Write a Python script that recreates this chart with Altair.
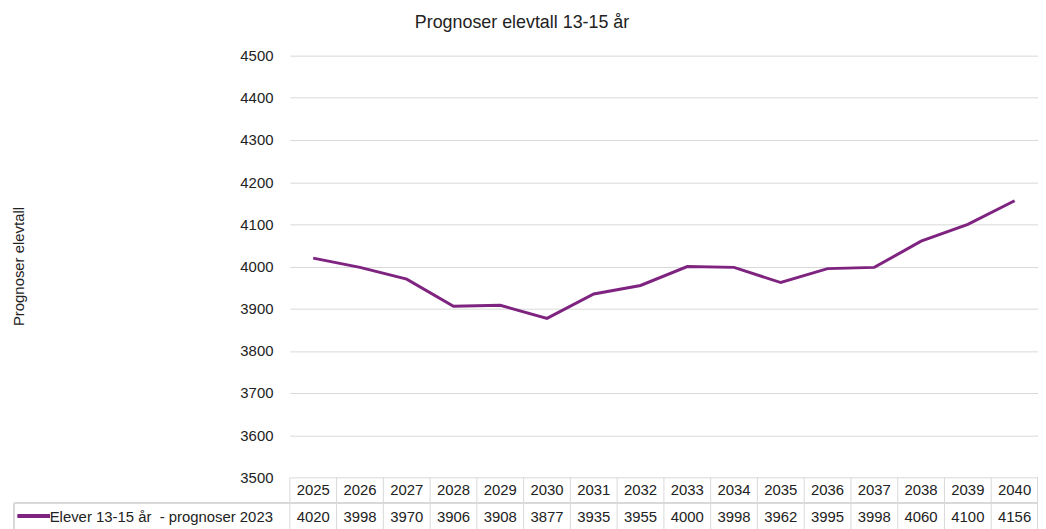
import altair as alt
import pandas as pd

years = [str(y) for y in range(2025, 2041)]
values = [4020, 3998, 3970, 3906, 3908, 3877, 3935, 3955, 4000, 3998, 3962, 3995, 3998, 4060, 4100, 4156]
series_name = "Elever 13-15 år\u00a0 - prognoser 2023"
title_text = "Prognoser elevtall 13-15 år"
y_title = "Prognoser elevtall"
y_ticks = [3500, 3600, 3700, 3800, 3900, 4000, 4100, 4200, 4300, 4400, 4500]

df = pd.DataFrame({"year": years, "value": values})

W, H = 754, 425
PURPLE = "#7E2380"
GRID = "#d9d9d9"
TXT = "#222222"
FONT = "Liberation Sans"

xs = alt.Scale(type="band", domain=years, paddingInner=0, paddingOuter=0)
xenc = alt.X("year:N", scale=xs, axis=None, bandPosition=0.5)
xedge = alt.X("year:N", scale=xs, axis=None, bandPosition=0)

base = alt.Chart(df)

line = base.mark_line(color=PURPLE, strokeWidth=3).encode(
    x=xenc,
    y=alt.Y("value:Q", scale=alt.Scale(domain=[3500, 4500], nice=False, zero=False),
            axis=alt.Axis(values=y_ticks, format="d", grid=True, gridColor=GRID, gridWidth=1,
                          ticks=False, domain=False, labelPadding=17, labelFontSize=15,
                          labelFont=FONT, labelColor=TXT, title=None)),
)

# table: vertical dividers
vrules = base.mark_rule(color=GRID, strokeWidth=1).encode(
    x=xedge, y=alt.value(425), y2=alt.value(490)
)
right_edge = base.mark_rule(color=GRID, strokeWidth=1).encode(
    x=alt.value(W - 0.5), y=alt.value(425), y2=alt.value(490)
)
left_cell = base.mark_rule(color=GRID, strokeWidth=1).encode(
    x=alt.value(-278), y=alt.value(451), y2=alt.value(490)
)
hrule = base.mark_rule(color=GRID, strokeWidth=1).encode(
    x=alt.value(-278), x2=alt.value(W), y=alt.value(451)
)

year_text = base.mark_text(fontSize=15, font=FONT, color=TXT, baseline="middle").encode(
    x=xenc, y=alt.value(438), text="year:N"
)
val_text = base.mark_text(fontSize=15, font=FONT, color=TXT, baseline="middle").encode(
    x=xenc, y=alt.value(465), text="value:Q"
)

legend_line = base.mark_rule(color=PURPLE, strokeWidth=3).encode(
    x=alt.value(-274), x2=alt.value(-242), y=alt.value(464)
)
legend_text = alt.Chart(pd.DataFrame({"t": [series_name]})).mark_text(
    fontSize=15, font=FONT, color=TXT, align="left", baseline="middle"
).encode(x=alt.value(-242), y=alt.value(465), text="t:N")

title = alt.Chart(pd.DataFrame({"t": [title_text]})).mark_text(
    fontSize=18, font=FONT, color=TXT, align="center", baseline="middle"
).encode(x=alt.value(234), y=alt.value(-33), text="t:N")

ytitle = alt.Chart(pd.DataFrame({"t": [y_title]})).mark_text(
    fontSize=15, font=FONT, color=TXT, align="center", baseline="middle", angle=270
).encode(x=alt.value(-273), y=alt.value(212.5), text="t:N")

chart = alt.layer(
    line, vrules, right_edge, left_cell, hrule, year_text, val_text,
    legend_line, legend_text, title, ytitle
).properties(
    width=W, height=H,
    autosize=alt.AutoSizeParams(type="none"),
    padding={"left": 284, "top": 46, "right": 0, "bottom": 52},
).configure_view(stroke=None)

chart.save("out.html", embed_options={"renderer": "svg", "actions": False})
